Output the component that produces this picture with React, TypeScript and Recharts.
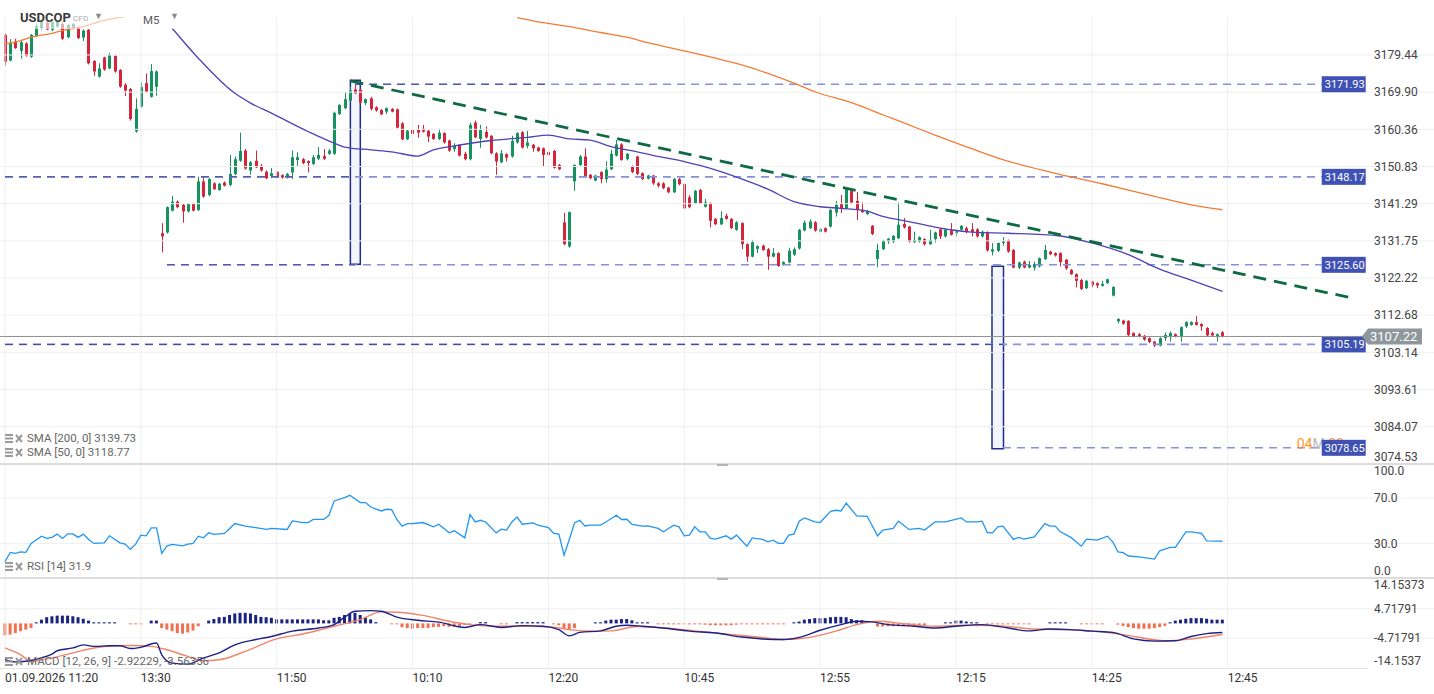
import {
  Bar,
  Cell,
  ComposedChart,
  Line,
  ReferenceArea,
  ReferenceLine,
  XAxis,
  YAxis,
} from "recharts";

const FONT = "Roboto, 'Noto Sans', Arial, sans-serif";
const GREEN = "#17925f";
const RED = "#d3263b";

// OHLC per 5-minute candle: [open, high, low, close]
const candles: [number, number, number, number][] = [
  [3184.6, 3185.0, 3176.7, 3177.7], [3178.0, 3183.5, 3177.8, 3182.6], [3182.9, 3183.6, 3181.0, 3181.2],
  [3180.5, 3183.3, 3178.5, 3182.7], [3182.4, 3182.7, 3179.0, 3179.3], [3179.0, 3184.8, 3178.7, 3184.6],
  [3184.3, 3187.5, 3184.0, 3186.9], [3186.3, 3188.5, 3186.0, 3188.0], [3187.7, 3188.0, 3185.8, 3186.0],
  [3185.9, 3188.3, 3185.6, 3188.0], [3186.7, 3188.2, 3186.5, 3188.0], [3187.4, 3187.8, 3183.3, 3183.6],
  [3184.0, 3187.4, 3183.7, 3187.1], [3186.2, 3187.6, 3186.0, 3187.4], [3186.5, 3186.8, 3183.5, 3183.8],
  [3183.9, 3186.0, 3183.0, 3185.7], [3185.9, 3186.1, 3177.0, 3177.3], [3177.9, 3178.1, 3174.1, 3175.2],
  [3173.9, 3177.3, 3173.6, 3176.0], [3178.8, 3179.0, 3175.4, 3175.7], [3176.0, 3180.0, 3175.8, 3179.4],
  [3179.2, 3179.4, 3174.9, 3175.2], [3175.6, 3175.8, 3171.0, 3171.3], [3171.8, 3172.2, 3168.9, 3170.3],
  [3170.7, 3171.0, 3162.6, 3163.0], [3159.8, 3168.3, 3159.5, 3165.6], [3166.2, 3172.4, 3165.9, 3171.2],
  [3172.2, 3174.7, 3169.8, 3170.0], [3168.7, 3177.1, 3168.5, 3175.3], [3171.3, 3175.5, 3169.0, 3175.2],
  [3133.7, 3136.3, 3128.8, 3132.9], [3133.9, 3140.6, 3133.6, 3140.4], [3139.5, 3143.3, 3139.3, 3141.8],
  [3141.8, 3142.1, 3140.1, 3140.4], [3141.0, 3141.2, 3136.4, 3139.3], [3139.3, 3141.5, 3139.0, 3141.2],
  [3141.2, 3141.5, 3139.3, 3139.5], [3139.7, 3148.2, 3139.4, 3147.0], [3147.0, 3148.1, 3142.8, 3143.1],
  [3143.5, 3147.9, 3143.2, 3147.6], [3146.5, 3146.8, 3144.8, 3145.0], [3144.8, 3146.6, 3144.6, 3146.4],
  [3146.7, 3147.0, 3145.7, 3145.9], [3146.1, 3153.8, 3145.8, 3148.9], [3148.9, 3153.4, 3148.6, 3152.7],
  [3152.3, 3159.5, 3152.0, 3154.8], [3154.9, 3155.3, 3150.0, 3150.3], [3149.8, 3152.2, 3148.7, 3151.9],
  [3152.3, 3154.9, 3150.4, 3150.6], [3151.0, 3151.5, 3149.5, 3149.8], [3149.5, 3149.8, 3147.6, 3147.8],
  [3148.4, 3150.4, 3147.8, 3149.1], [3149.4, 3149.6, 3148.0, 3148.2], [3148.6, 3148.8, 3147.7, 3148.0],
  [3148.0, 3149.2, 3147.7, 3148.9], [3149.3, 3154.9, 3147.6, 3153.2], [3152.5, 3154.5, 3151.0, 3153.2],
  [3152.7, 3153.0, 3151.4, 3151.7], [3152.2, 3152.4, 3149.3, 3151.7], [3151.5, 3153.8, 3151.2, 3153.2],
  [3152.8, 3155.8, 3152.5, 3153.8], [3153.5, 3155.3, 3152.5, 3152.8], [3154.1, 3155.3, 3153.8, 3154.9],
  [3154.1, 3164.9, 3153.8, 3164.6], [3164.3, 3166.9, 3164.0, 3166.6], [3165.8, 3169.9, 3165.5, 3168.1],
  [3167.7, 3171.3, 3167.5, 3170.3], [3170.6, 3171.9, 3169.4, 3169.6], [3170.5, 3170.7, 3167.0, 3167.2],
  [3167.1, 3168.3, 3166.6, 3168.1], [3168.3, 3168.7, 3165.2, 3165.6], [3166.0, 3166.3, 3164.9, 3165.2],
  [3165.3, 3165.6, 3164.0, 3164.2], [3164.9, 3166.0, 3164.3, 3165.8], [3165.6, 3165.8, 3164.7, 3164.9],
  [3165.5, 3165.7, 3160.6, 3160.8], [3161.9, 3162.2, 3157.6, 3157.8], [3157.8, 3160.2, 3157.6, 3160.0],
  [3160.2, 3161.5, 3158.9, 3159.2], [3160.2, 3161.5, 3158.2, 3159.5], [3160.5, 3161.5, 3159.5, 3159.8],
  [3160.0, 3160.2, 3157.1, 3158.5], [3159.2, 3159.4, 3157.6, 3157.9], [3157.9, 3160.5, 3157.6, 3159.5],
  [3159.4, 3159.6, 3156.7, 3157.0], [3157.5, 3157.7, 3154.6, 3154.9], [3155.3, 3156.8, 3154.6, 3156.1],
  [3156.4, 3156.6, 3153.4, 3153.6], [3154.1, 3154.6, 3152.4, 3152.7], [3152.7, 3162.1, 3152.4, 3161.5],
  [3162.1, 3162.6, 3158.1, 3158.3], [3157.9, 3161.5, 3155.6, 3160.2], [3159.7, 3161.1, 3158.0, 3158.3],
  [3158.7, 3158.9, 3154.0, 3154.2], [3154.2, 3154.5, 3148.7, 3152.1], [3151.9, 3155.1, 3151.7, 3154.2],
  [3154.0, 3154.2, 3152.1, 3153.1], [3153.4, 3158.7, 3153.1, 3157.4], [3157.0, 3159.6, 3156.7, 3159.4],
  [3159.6, 3159.9, 3155.4, 3155.7], [3156.1, 3160.0, 3155.5, 3157.0], [3156.4, 3156.6, 3154.6, 3155.5],
  [3155.7, 3155.9, 3154.6, 3154.8], [3155.5, 3155.7, 3150.8, 3153.8], [3154.5, 3155.1, 3153.6, 3153.8],
  [3154.8, 3155.1, 3150.3, 3150.5], [3151.2, 3151.5, 3149.9, 3150.1], [3136.5, 3138.9, 3130.6, 3130.9],
  [3130.3, 3139.3, 3130.0, 3139.1], [3147.0, 3151.4, 3144.6, 3151.2], [3151.2, 3153.8, 3151.0, 3153.4],
  [3153.4, 3155.5, 3148.0, 3148.2], [3148.7, 3148.9, 3147.6, 3147.8], [3147.2, 3148.7, 3147.0, 3148.5],
  [3149.4, 3149.6, 3146.5, 3147.6], [3147.6, 3152.1, 3146.7, 3150.0], [3150.1, 3155.1, 3149.9, 3154.1],
  [3153.6, 3157.6, 3153.4, 3156.5], [3156.5, 3156.8, 3152.3, 3152.5], [3152.7, 3154.3, 3152.4, 3154.1],
  [3150.8, 3151.1, 3149.1, 3149.4], [3153.4, 3153.6, 3148.6, 3148.9], [3149.1, 3149.3, 3147.3, 3147.6],
  [3147.7, 3148.7, 3147.5, 3148.5], [3148.5, 3148.7, 3146.1, 3146.5], [3146.5, 3146.8, 3145.5, 3145.9],
  [3146.5, 3146.8, 3145.0, 3145.3], [3145.4, 3145.6, 3144.0, 3144.2], [3144.2, 3147.9, 3144.0, 3147.6],
  [3147.6, 3147.9, 3146.0, 3146.3], [3146.3, 3146.5, 3139.9, 3140.1], [3142.9, 3143.5, 3140.1, 3140.4],
  [3141.4, 3144.8, 3141.2, 3144.6], [3144.8, 3145.1, 3141.2, 3141.4], [3140.5, 3142.5, 3140.3, 3141.6],
  [3141.4, 3141.6, 3135.2, 3136.9], [3137.4, 3137.6, 3135.8, 3136.0], [3136.0, 3139.3, 3135.8, 3137.6],
  [3138.2, 3138.7, 3137.2, 3137.4], [3137.4, 3137.6, 3134.8, 3135.0], [3134.6, 3136.8, 3134.3, 3136.5],
  [3136.3, 3136.5, 3129.6, 3130.9], [3130.9, 3131.1, 3126.4, 3127.7], [3127.7, 3132.0, 3127.5, 3131.4],
  [3129.7, 3130.6, 3128.6, 3130.4], [3130.5, 3130.8, 3129.2, 3129.4], [3129.6, 3129.9, 3124.3, 3127.7],
  [3127.7, 3129.9, 3127.5, 3128.6], [3128.6, 3128.8, 3125.1, 3125.3], [3125.6, 3126.5, 3125.4, 3126.3],
  [3126.2, 3130.0, 3126.0, 3129.2], [3128.2, 3130.1, 3127.9, 3129.6], [3129.8, 3134.8, 3129.5, 3134.6],
  [3134.4, 3137.0, 3134.2, 3136.4], [3135.0, 3137.3, 3134.8, 3136.7], [3136.5, 3136.8, 3134.1, 3134.4],
  [3134.1, 3135.0, 3133.9, 3134.8], [3135.0, 3135.2, 3133.9, 3134.1], [3135.4, 3139.9, 3135.2, 3139.7],
  [3139.0, 3142.0, 3138.0, 3141.0], [3141.2, 3143.5, 3138.9, 3139.9], [3140.1, 3145.3, 3139.9, 3145.0],
  [3144.6, 3144.8, 3141.3, 3141.6], [3142.0, 3144.3, 3137.1, 3139.7], [3139.7, 3141.6, 3138.9, 3139.1],
  [3138.6, 3139.7, 3138.4, 3139.4], [3135.6, 3135.8, 3133.2, 3133.5], [3127.1, 3131.0, 3125.0, 3129.4],
  [3129.6, 3132.0, 3129.4, 3131.8], [3131.6, 3132.5, 3131.0, 3132.3], [3131.6, 3133.3, 3131.2, 3133.0],
  [3132.4, 3141.6, 3132.2, 3135.9], [3136.1, 3137.6, 3134.9, 3135.2], [3135.4, 3135.6, 3131.3, 3131.6],
  [3131.4, 3134.1, 3131.2, 3132.0], [3131.6, 3132.9, 3131.3, 3132.7], [3132.2, 3132.4, 3130.5, 3130.9],
  [3130.9, 3134.6, 3130.7, 3132.0], [3132.2, 3134.1, 3131.3, 3133.9], [3134.7, 3135.0, 3132.2, 3132.9],
  [3132.9, 3134.8, 3132.6, 3134.6], [3134.4, 3136.3, 3133.1, 3133.3], [3133.7, 3134.6, 3132.9, 3134.4],
  [3134.6, 3135.8, 3134.3, 3135.6], [3135.0, 3135.4, 3133.7, 3134.0], [3134.7, 3136.3, 3132.9, 3134.0],
  [3134.7, 3135.0, 3132.6, 3132.9], [3132.9, 3134.4, 3132.6, 3134.1], [3134.0, 3134.2, 3129.0, 3129.3],
  [3129.0, 3131.2, 3128.0, 3129.6], [3129.2, 3131.3, 3128.9, 3131.2], [3131.2, 3132.7, 3130.5, 3131.6],
  [3131.8, 3132.1, 3128.7, 3129.0], [3129.4, 3129.7, 3124.7, 3124.9], [3124.9, 3126.4, 3124.5, 3126.2],
  [3126.4, 3126.7, 3124.7, 3124.9], [3124.9, 3126.6, 3124.7, 3125.6], [3124.9, 3126.4, 3124.1, 3125.8],
  [3125.2, 3127.5, 3124.9, 3127.3], [3127.1, 3130.7, 3126.8, 3129.4], [3129.0, 3129.2, 3128.1, 3128.3],
  [3128.6, 3128.8, 3127.7, 3128.0], [3128.6, 3128.8, 3125.2, 3126.3], [3126.9, 3127.1, 3124.3, 3124.7],
  [3124.3, 3124.5, 3123.0, 3123.2], [3123.2, 3123.4, 3119.8, 3121.5], [3121.7, 3122.0, 3119.1, 3119.4],
  [3119.6, 3121.7, 3119.4, 3121.5], [3121.3, 3121.5, 3119.8, 3120.4], [3120.9, 3121.1, 3119.6, 3120.3],
  [3120.2, 3121.5, 3120.0, 3120.7], [3120.9, 3122.1, 3120.7, 3121.9], [3117.7, 3120.1, 3117.5, 3119.9],
  [3111.1, 3111.9, 3110.6, 3111.7], [3111.3, 3111.5, 3110.2, 3110.5], [3111.2, 3111.4, 3107.2, 3107.6],
  [3108.1, 3108.3, 3107.0, 3107.2], [3107.8, 3108.1, 3107.0, 3107.2], [3107.4, 3107.6, 3106.1, 3106.4],
  [3106.8, 3107.0, 3105.5, 3105.8], [3105.9, 3106.1, 3104.5, 3104.9], [3104.9, 3107.0, 3104.7, 3106.8],
  [3106.8, 3108.2, 3106.1, 3107.6], [3107.2, 3108.5, 3105.9, 3108.1], [3107.8, 3108.0, 3107.0, 3107.2],
  [3107.2, 3109.8, 3105.9, 3109.6], [3109.8, 3111.1, 3109.4, 3110.9], [3110.2, 3111.1, 3110.0, 3110.9],
  [3110.9, 3112.5, 3110.0, 3110.2], [3110.4, 3110.6, 3108.7, 3109.8], [3109.4, 3109.6, 3107.2, 3107.5],
  [3108.1, 3108.5, 3107.2, 3107.5], [3107.2, 3108.0, 3105.9, 3107.8], [3108.3, 3108.6, 3107.0, 3107.22],
];

// [candle index, value]
const sma50: [number, number][] = [
  [32, 3186.3], [37, 3178.6], [44, 3169.6], [47, 3167.1], [51, 3164.5], [58, 3159.8], [63, 3156.8],
  [65, 3155.8], [70, 3155.1], [74, 3154.6], [79, 3153.5], [82, 3155.1], [86, 3156.1], [93, 3157.5],
  [100, 3158.3], [104, 3158.9], [108, 3157.9], [112, 3157.6], [116, 3155.9], [121, 3154.6], [125, 3153.4],
  [130, 3152.1], [133, 3151.1], [137, 3149.5], [140, 3148.1], [146, 3145.0], [151, 3141.8], [156, 3140.5],
  [160, 3140.1], [165, 3139.4], [168, 3138.0], [173, 3136.7], [178, 3135.3], [181, 3134.6], [185, 3134.0],
  [192, 3133.7], [202, 3133.0], [208, 3131.2], [215, 3128.2], [221, 3124.5], [227, 3121.7], [233, 3118.77],
];

const sma200: [number, number | null][] = [
  [0, 3182.2], [3, 3183.1], [5, 3184.0], [9, 3185.0], [12, 3186.0], [16, 3187.1], [18, 3188.0], [23, 3189.3],
  [60, null],
  [98, 3189.0], [101, 3188.2], [108, 3186.7], [114, 3185.2], [119, 3184.0], [123, 3182.6], [130, 3180.5],
  [136, 3178.6], [141, 3176.9], [146, 3174.7], [151, 3172.2], [155, 3170.0], [162, 3167.2], [168, 3164.1],
  [173, 3161.5], [178, 3158.9], [183, 3156.4], [190, 3153.0], [200, 3149.4], [210, 3146.4], [219, 3143.5],
  [227, 3141.0], [233, 3139.73],
];

const rsi: [number, number][] = [
  [0, 13.9], [1, 22.1], [2, 21.2], [3, 22.6], [4, 22.1], [5, 30.0], [7, 36.4], [8, 34.4], [9, 35.3],
  [10, 38.2], [11, 34.4], [12, 38.4], [13, 38.4], [14, 35.3], [15, 38.2], [16, 33.5], [17, 30.0],
  [19, 30.5], [20, 36.7], [22, 30.5], [23, 29.4], [24, 24.7], [25, 29.4], [26, 37.3], [27, 36.7],
  [28, 43.7], [29, 43.7], [30, 21.2], [31, 27.9], [32, 29.1], [34, 27.9], [35, 29.4], [36, 30.0],
  [37, 36.4], [38, 34.9], [39, 39.3], [40, 37.9], [42, 38.8], [43, 43.2], [44, 47.5], [46, 45.2],
  [48, 44.0], [50, 42.3], [51, 43.2], [54, 42.3], [55, 49.8], [57, 48.4], [58, 48.4], [59, 51.1],
  [61, 51.1], [62, 54.8], [63, 67.4], [65, 70.4], [66, 72.4], [68, 66.0], [69, 66.0], [70, 62.1],
  [72, 58.6], [73, 60.1], [74, 59.8], [75, 51.1], [76, 45.2], [77, 47.5], [78, 47.5], [80, 48.4],
  [82, 44.6], [83, 46.9], [85, 39.3], [86, 41.1], [88, 34.9], [89, 55.4], [90, 48.9], [91, 50.4],
  [92, 48.9], [94, 39.3], [95, 42.5], [96, 41.7], [97, 48.9], [98, 53.3], [99, 46.9], [101, 48.1],
  [102, 46.1], [104, 44.0], [105, 38.8], [106, 38.2], [107, 19.7], [108, 33.5], [109, 48.1], [110, 50.4],
  [111, 45.4], [112, 46.1], [114, 46.1], [115, 48.9], [117, 54.8], [118, 51.1], [119, 51.3], [120, 46.7],
  [122, 45.2], [123, 45.4], [125, 43.2], [126, 40.2], [128, 46.1], [129, 44.6], [130, 36.7], [131, 37.3],
  [132, 44.6], [133, 40.2], [134, 40.2], [135, 34.4], [136, 33.8], [138, 36.7], [139, 33.8], [140, 37.3],
  [141, 32.3], [142, 27.6], [143, 34.9], [145, 33.5], [146, 31.4], [147, 32.9], [148, 30.0], [149, 30.0],
  [150, 37.3], [151, 38.2], [152, 49.6], [153, 52.5], [155, 48.9], [156, 48.4], [158, 58.3], [159, 59.2],
  [160, 58.6], [161, 65.6], [163, 54.2], [165, 53.9], [167, 36.7], [168, 41.7], [170, 43.2], [171, 49.6],
  [173, 42.3], [175, 43.2], [176, 41.7], [178, 48.9], [180, 48.9], [183, 52.5], [184, 48.9], [186, 48.9],
  [187, 49.6], [188, 39.6], [189, 39.3], [190, 44.6], [191, 45.2], [193, 33.5], [194, 35.3], [195, 33.8],
  [197, 35.8], [199, 47.5], [200, 45.2], [201, 45.2], [202, 40.2], [204, 35.3], [206, 27.6], [207, 33.8],
  [209, 32.9], [211, 36.4], [212, 31.4], [213, 22.6], [214, 21.8], [215, 18.9], [217, 18.2], [220, 16.2],
  [221, 23.5], [223, 26.5], [224, 26.5], [226, 40.2], [227, 40.2], [229, 38.8], [230, 32.3], [232, 32.0],
  [233, 31.9],
];

const macd: [number, number][] = [
  [0, -11.7], [2, -12.4], [4, -12.2], [7, -11.1], [9, -9.9], [10, -8.8], [13, -7.9], [15, -6.9],
  [17, -7.4], [20, -7.2], [22, -7.2], [24, -8.1], [26, -7.7], [29, -6.3], [30, -10.1], [32, -12.8],
  [35, -13.1], [38, -11.1], [41, -9.5], [44, -6.9], [48, -5.2], [51, -4.2], [55, -2.5], [60, -1.5],
  [63, -0.4], [65, 2.0], [67, 3.9], [70, 4.1], [72, 3.9], [75, 2.0], [79, 1.0], [83, 0.4], [88, -1.3],
  [91, -0.4], [95, -1.3], [99, -0.7], [103, -0.9], [106, -2.0], [108, -4.0], [110, -2.9], [114, -2.4],
  [117, -0.9], [119, -0.6], [122, -0.9], [126, -1.5], [131, -2.5], [136, -3.1], [141, -4.4], [145, -5.0],
  [149, -5.2], [152, -4.5], [156, -2.2], [160, -0.4], [163, 0.7], [166, 0.5], [169, -0.4], [174, -0.9],
  [178, -1.5], [182, -0.9], [187, -0.4], [192, -1.5], [196, -2.4], [200, -1.8], [204, -2.0], [208, -2.5],
  [212, -2.9], [216, -5.0], [220, -5.7], [224, -5.6], [227, -4.2], [230, -3.3], [233, -2.92229],
];

const signal: [number, number][] = [
  [0, -7.9], [3, -10.1], [5, -12.2], [9, -11.1], [13, -9.5], [17, -7.9], [21, -7.2], [24, -7.1],
  [28, -7.4], [31, -8.5], [35, -10.6], [38, -12.0], [41, -11.7], [46, -9.0], [52, -5.0], [57, -3.4],
  [63, -0.9], [68, 1.2], [72, 3.7], [75, 3.6], [80, 2.6], [85, 0.7], [89, -0.4], [94, -0.9], [100, -0.9],
  [105, -1.2], [108, -2.0], [113, -2.5], [116, -2.4], [121, -1.0], [126, -1.5], [132, -2.4], [138, -3.4],
  [144, -4.4], [149, -5.2], [154, -4.5], [159, -2.5], [163, -0.4], [167, 0.7], [172, -0.1], [178, -0.9],
  [184, -0.6], [190, -0.7], [196, -1.7], [202, -2.0], [208, -2.4], [214, -3.6], [222, -5.6], [227, -5.0],
  [233, -3.56356],
];

const histogram: [number, number][] = [
  [0, -3.8], [1, -3.6], [2, -3.1], [3, -2.5], [4, -2.0], [5, -1.5], [6, 0.35], [7, 1.2], [8, 2.0],
  [9, 2.3], [10, 2.5], [11, 2.5], [12, 2.5], [13, 2.3], [14, 2.0], [15, 1.5], [16, 0.9], [17, 0.35],
  [18, 0.35], [19, 0.35], [20, 0.35], [21, 0.35], [24, -0.3], [25, -0.3], [26, -0.3], [28, 0.9], [29, 0.9],
  [30, -1.5], [31, -2.0], [32, -2.5], [33, -3.1], [34, -3.3], [35, -2.9], [36, -2.3], [37, -0.9],
  [39, 0.9], [40, 1.4], [41, 2.0], [42, 2.1], [43, 2.7], [44, 3.2], [45, 3.4], [46, 3.4], [47, 3.2],
  [48, 2.7], [49, 2.1], [50, 2.0], [51, 1.8], [52, 1.3], [53, 1.3], [54, 1.3], [55, 1.3], [56, 1.3],
  [57, 1.3], [58, 1.3], [59, 1.3], [60, 1.3], [61, 1.0], [62, 1.0], [63, 1.8], [64, 2.1], [65, 2.7],
  [66, 3.1], [67, 3.4], [68, 2.7], [69, 2.0], [70, 1.3], [71, 0.4], [74, -0.3], [75, -0.3], [76, -1.2],
  [77, -1.5], [78, -1.7], [79, -1.5], [80, -1.5], [81, -1.5], [82, -1.2], [83, -1.1], [84, -0.9],
  [85, -1.1], [86, -1.1], [87, -0.9], [88, -0.5], [89, -0.3], [91, 0.4], [92, 0.4], [95, -0.3], [96, -0.3],
  [98, 0.4], [99, 0.4], [100, 0.4], [101, 0.4], [102, 0.4], [103, 0.4], [105, -0.3], [106, -0.6],
  [107, -1.5], [108, -2.0], [109, -1.5], [113, 0.35], [114, 0.35], [115, 0.9], [116, 1.2], [117, 1.2],
  [118, 1.4], [119, 1.4], [120, 1.0], [121, 0.35], [122, 0.35], [123, 0.35], [125, -0.3], [126, -0.3],
  [127, -0.3], [128, -0.3], [129, -0.3], [130, -0.3], [131, -0.3], [132, -0.3], [133, -0.3], [134, -0.4],
  [135, -0.6], [136, -0.6], [137, -0.6], [138, -0.6], [139, -0.6], [140, -0.4], [141, -0.3], [142, -0.3],
  [143, -0.3], [144, -0.3], [145, -0.3], [146, -0.3], [147, -0.3], [148, -0.3], [149, -0.3], [151, 0.35],
  [152, 0.6], [153, 1.2], [154, 1.4], [155, 1.7], [156, 1.7], [157, 1.7], [158, 2.0], [159, 2.1],
  [160, 2.1], [161, 2.0], [162, 1.4], [163, 1.0], [164, 1.0], [167, -1.0], [168, -1.0], [169, -0.9],
  [170, -0.9], [171, -0.9], [172, -0.9], [173, -0.9], [174, -0.8], [175, -0.6], [176, -0.5], [180, 0.35],
  [181, 0.35], [182, 0.9], [183, 0.9], [184, 0.6], [185, 0.35], [186, 0.35], [188, -0.3], [189, -0.3],
  [190, -0.3], [191, -0.3], [192, -0.3], [193, -0.3], [194, -0.3], [195, -0.3], [196, -0.3], [200, 0.35],
  [201, 0.35], [202, 0.35], [203, 0.35], [206, -0.3], [207, -0.3], [208, -0.3], [209, -0.3], [210, -0.3],
  [213, -0.4], [214, -0.8], [215, -1.2], [216, -1.5], [217, -1.7], [218, -1.7], [219, -1.7], [220, -1.5],
  [221, -1.2], [222, -0.8], [223, 0.35], [224, 0.9], [225, 1.2], [226, 1.5], [227, 1.7], [228, 1.7],
  [229, 1.7], [230, 1.5], [231, 1.2], [232, 1.2], [233, 1.2],
];

const priceTicks = [3179.44, 3169.9, 3160.36, 3150.83, 3141.29, 3131.75, 3122.22, 3112.68, 3103.14, 3093.61, 3084.07, 3074.53];
const rsiTicks = [100, 70, 30, 0];
const macdTicks = [14.15373, 4.71791, -4.71791, -14.15373];
const macdTickLabels = ["14.15373", "4.71791", "-4.71791", "-14.1537"];
const gridIdx = [0, 26, 52, 78, 104, 130, 156, 182, 208, 234];
const timeLabels = ["01.09.2026 11:20", "13:30", "11:50", "10:10", "12:20", "10:45", "12:55", "12:15", "14:25", "12:45"];

// horizontal levels drawn on the chart: price, first candle, end of darker stretch
const levels: { price: number; start: number; darkTo: number | null }[] = [
  { price: 3171.93, start: 67, darkTo: 104 },
  { price: 3148.17, start: 0, darkTo: 67 },
  { price: 3125.6, start: 31, darkTo: 67 },
  { price: 3105.19, start: 0, darkTo: 191 },
  { price: 3078.65, start: 191, darkTo: null },
];
const tagIndex = 252;
const lastPrice = 3107.22;
const trendline = [
  { x: 66.1, y: 3172.8 },
  { x: 258.4, y: 3116.9 },
];
const rangeBoxes = [
  { x1: 66.1, x2: 68.0, lo: 3125.77, hi: 3172.95 },
  { x1: 188.9, x2: 191.1, lo: 3078.41, hi: 3125.26 },
];

const X_DOMAIN: [number, number] = [-0.957, 260.86];
const WIDTH = 1434;
const AXIS_W = 66;

const candleRows = candles.map(([o, h, l, c], i) => ({ i, o, h, l, c, range: [l, h] }));
const toRows = (pts: [number, number | null][]) => pts.map(([i, v]) => ({ i, v }));

function Candle(props: any) {
  const { x, y, width, height, payload } = props;
  if (!payload || height == null || isNaN(y)) return null;
  const { o, h, l, c } = payload;
  const k = h - l > 0 ? height / (h - l) : 0;
  const cx = Math.round(x + width / 2);
  const color = c >= o ? GREEN : RED;
  const top = y + (h - Math.max(o, c)) * k;
  const bh = Math.max(1, Math.abs(c - o) * k);
  return (
    <g>
      <line x1={cx + 0.5} x2={cx + 0.5} y1={y} y2={y + height} stroke={color} strokeWidth={1} />
      <rect x={cx - 1} y={top} width={3} height={bh} fill={color} />
    </g>
  );
}

function makeTick(top: number, bottom: number, fmt: (v: number) => string) {
  return (props: any) => {
    const { x, y, payload } = props;
    const ty = Math.max(top + 7, Math.min(bottom - 7, y));
    return (
      <text x={x - 2} y={ty} dy="0.35em" fontSize={12} fill="#444" fontFamily={FONT} textAnchor="start">
        {fmt(payload.value)}
      </text>
    );
  };
}

function tagLabel(text: string, color: string, countdown?: boolean) {
  return (props: any) => {
    const vb = props.viewBox;
    if (!vb) return null;
    const right = vb.x + vb.width;
    return (
      <g>
        {countdown && (
          <text x={right - 25} y={vb.y} dy="0.1em" fontSize={14} fontFamily={FONT}>
            <tspan fill="#ff9a1f">04</tspan>
            <tspan fill="#bbb">M</tspan>
            <tspan fill="#ff9a1f"> 00s</tspan>
          </text>
        )}
        <rect x={right} y={vb.y - 8} width={44} height={16} fill={color} />
        <text x={right + 3} y={vb.y} dy="0.36em" fontSize={11} fill="#fff" fontFamily={FONT}>
          {text}
        </text>
      </g>
    );
  };
}

function lastPriceLabel(props: any) {
  const vb = props.viewBox;
  if (!vb) return null;
  const r = vb.x + vb.width;
  return (
    <g>
      <polygon
        points={`${r - 6},${vb.y} ${r},${vb.y - 8} ${r + 54},${vb.y - 8} ${r + 54},${vb.y + 8} ${r},${vb.y + 8}`}
        fill="#8e979b"
      />
      <text x={r + 2} y={vb.y} dy="0.36em" fontSize={13} fill="#fff" fontFamily={FONT}>
        {lastPrice.toFixed(2)}
      </text>
    </g>
  );
}

function gridLinesX() {
  return gridIdx.map((g) => (
    <ReferenceLine key={`gx${g}`} x={g} stroke="#efefef" strokeWidth={1} ifOverflow="visible" />
  ));
}

function gridLinesY(values: number[]) {
  return values.map((v) => (
    <ReferenceLine
      key={`gy${v}`}
      segment={[{ x: X_DOMAIN[0], y: v }, { x: 273.6, y: v }]}
      stroke="#efefef"
      strokeWidth={1}
      ifOverflow="visible"
    />
  ));
}

function LegendIcons() {
  return (
    <svg width={18} height={9} style={{ marginRight: 4 }}>
      <rect x={0} y={0} width={8} height={2} fill="#9a9a9a" />
      <rect x={0} y={3.5} width={8} height={2} fill="#9a9a9a" />
      <rect x={0} y={7} width={8} height={2} fill="#9a9a9a" />
      <line x1={11} y1={1} x2={17} y2={8} stroke="#9a9a9a" strokeWidth={2} />
      <line x1={17} y1={1} x2={11} y2={8} stroke="#9a9a9a" strokeWidth={2} />
    </svg>
  );
}

function LegendRow({ top, text }: { top: number; text: string }) {
  return (
    <div
      style={{
        position: "absolute",
        left: 5,
        top,
        display: "flex",
        alignItems: "center",
        fontSize: 11.5,
        color: "#666",
        fontFamily: FONT,
        whiteSpace: "nowrap",
      }}
    >
      <LegendIcons />
      {text}
    </div>
  );
}

export default function App() {
  return (
    <div
      style={{
        position: "fixed",
        left: 0,
        top: 0,
        width: WIDTH,
        height: 694,
        background: "#fff",
        fontFamily: FONT,
        overflow: "hidden",
      }}
    >
      {/* price pane */}
      <div style={{ position: "absolute", left: 0, top: 0 }}>
        <ComposedChart width={WIDTH} height={464} data={candleRows} margin={{ top: 17, right: 0, bottom: 0, left: 0 }}>
          <XAxis dataKey="i" type="number" domain={X_DOMAIN} allowDataOverflow hide />
          <YAxis
            orientation="right"
            width={AXIS_W}
            domain={[3074.5, 3189.18]}
            allowDataOverflow
            ticks={priceTicks}
            interval={0}
            axisLine={false}
            tickLine={false}
            tick={makeTick(17, 464, (v) => v.toFixed(2))}
          />
          {gridLinesY(priceTicks)}
          {gridLinesX()}
          {rangeBoxes.map((b, k) => (
            <ReferenceArea
              key={`box${k}`}
              x1={b.x1}
              x2={b.x2}
              y1={b.lo}
              y2={b.hi}
              fill="#edf1fb"
              fillOpacity={0.7}
              stroke="#1f2b8f"
              strokeWidth={1.5}
            />
          ))}
          {levels.map((lv) => (
            <ReferenceLine
              key={`lv${lv.price}`}
              segment={[{ x: lv.start, y: lv.price }, { x: tagIndex, y: lv.price }]}
              stroke="#8791db"
              strokeWidth={1.6}
              strokeDasharray="8 6"
              label={tagLabel(lv.price.toFixed(2), "#3f51b5", lv.price === 3078.65)}
            />
          ))}
          {levels
            .filter((lv) => lv.darkTo !== null)
            .map((lv) => (
              <ReferenceLine
                key={`lvd${lv.price}`}
                segment={[{ x: lv.start, y: lv.price }, { x: lv.darkTo as number, y: lv.price }]}
                stroke="#3a4498"
                strokeWidth={1}
                strokeDasharray="8 6"
              />
            ))}
          <ReferenceLine y={lastPrice} stroke="#8f8f8f" strokeWidth={1} label={lastPriceLabel} />
          <Bar dataKey="range" barSize={3} isAnimationActive={false} shape={Candle} />
          <Line
            data={toRows(sma200)}
            dataKey="v"
            type="monotone"
            stroke="#f47b35"
            strokeWidth={1.3}
            dot={false}
            connectNulls={false}
            isAnimationActive={false}
          />
          <Line
            data={toRows(sma50)}
            dataKey="v"
            type="monotone"
            stroke="#4d43b6"
            strokeWidth={1.3}
            dot={false}
            isAnimationActive={false}
          />
          <ReferenceLine
            segment={trendline}
            stroke="#0e6a42"
            strokeWidth={2.8}
            strokeDasharray="13 8"
          />
        </ComposedChart>
      </div>

      {/* RSI pane */}
      <div style={{ position: "absolute", left: 0, top: 464 }}>
        <ComposedChart width={WIDTH} height={114} data={toRows(rsi)} margin={{ top: 0, right: 0, bottom: 0, left: 0 }}>
          <XAxis dataKey="i" type="number" domain={X_DOMAIN} allowDataOverflow hide />
          <YAxis
            orientation="right"
            width={AXIS_W}
            domain={[-0.5, 100]}
            allowDataOverflow
            ticks={rsiTicks}
            interval={0}
            axisLine={false}
            tickLine={false}
            tick={makeTick(0, 114, (v) => v.toFixed(1))}
          />
          {gridLinesY([70, 30])}
          {gridLinesX()}
          <Line dataKey="v" type="linear" stroke="#2196f3" strokeWidth={1.3} dot={false} isAnimationActive={false} />
        </ComposedChart>
      </div>

      {/* MACD pane */}
      <div style={{ position: "absolute", left: 0, top: 578 }}>
        <ComposedChart width={WIDTH} height={116} data={toRows(histogram)} margin={{ top: 0, right: 0, bottom: 0, left: 0 }}>
          <XAxis
            dataKey="i"
            type="number"
            domain={X_DOMAIN}
            allowDataOverflow
            ticks={gridIdx}
            interval={0}
            height={26}
            axisLine={false}
            tickLine={false}
            tick={(props: any) => (
              <text x={props.x} y={props.y} dy={6} fontSize={12} fill="#333" fontFamily={FONT} textAnchor="start">
                {timeLabels[gridIdx.indexOf(props.payload.value)]}
              </text>
            )}
          />
          <YAxis
            orientation="right"
            width={AXIS_W}
            domain={[-14.36, 14.62]}
            allowDataOverflow
            ticks={macdTicks}
            interval={0}
            axisLine={false}
            tickLine={false}
            tick={makeTick(0, 90, (v) => macdTickLabels[macdTicks.indexOf(v)] ?? String(v))}
          />
          {gridLinesY([4.71791, -4.71791])}
          {gridLinesX()}
          <Bar dataKey="v" barSize={3} isAnimationActive={false}>
            {histogram.map(([i, v]) => (
              <Cell key={`h${i}`} fill={v >= 0 ? "#1b2380" : "#f0704f"} />
            ))}
          </Bar>
          <Line
            data={toRows(signal)}
            dataKey="v"
            type="monotone"
            stroke="#f28468"
            strokeWidth={1.4}
            dot={false}
            isAnimationActive={false}
          />
          <Line
            data={toRows(macd)}
            dataKey="v"
            type="monotone"
            stroke="#1c2285"
            strokeWidth={1.4}
            dot={false}
            isAnimationActive={false}
          />
        </ComposedChart>
      </div>

      {/* pane separators */}
      <div style={{ position: "absolute", left: 0, top: 463, width: WIDTH, height: 2, background: "#dcdcdc" }} />
      <div style={{ position: "absolute", left: 0, top: 577, width: WIDTH, height: 2, background: "#dcdcdc" }} />
      <div style={{ position: "absolute", left: 0, top: 668, width: 1368, height: 1, background: "#e4e4e4" }} />
      <div style={{ position: "absolute", left: 717, top: 464, width: 11, height: 2, background: "#b5b5b5" }} />
      <div style={{ position: "absolute", left: 717, top: 578, width: 11, height: 2, background: "#b5b5b5" }} />

      {/* header */}
      <div
        style={{
          position: "absolute",
          left: 16,
          top: 9,
          width: 172,
          height: 20,
          background: "rgba(255,255,255,0.6)",
        }}
      />
      <div style={{ position: "absolute", left: 20, top: 10, fontSize: 13, fontWeight: 700, color: "#3a3a3a", fontFamily: FONT }}>
        USDCOP
      </div>
      <div style={{ position: "absolute", left: 73, top: 14, fontSize: 8, color: "#a8a8a8", fontFamily: FONT, letterSpacing: 0.2 }}>
        CFD
      </div>
      <div style={{ position: "absolute", left: 94, top: 11, fontSize: 9, color: "#8a8a8a" }}>▼</div>
      <div style={{ position: "absolute", left: 143, top: 13, fontSize: 11.5, color: "#5a5a5a", fontFamily: FONT }}>M5</div>
      <div style={{ position: "absolute", left: 170, top: 11, fontSize: 9, color: "#8a8a8a" }}>▼</div>

      {/* legends */}
      <LegendRow top={431} text="SMA [200, 0] 3139.73" />
      <LegendRow top={445} text="SMA [50, 0] 3118.77" />
      <LegendRow top={559} text="RSI [14] 31.9" />
      <LegendRow top={654} text="MACD [12, 26, 9] -2.92229, -3.56356" />
    </div>
  );
}
